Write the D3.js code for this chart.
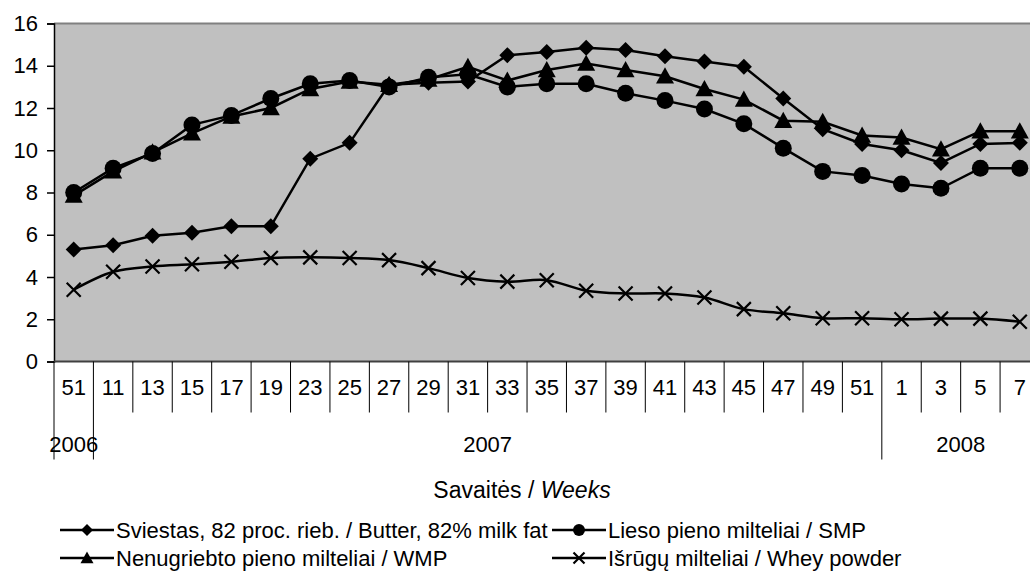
<!DOCTYPE html>
<html>
<head>
<meta charset="UTF-8">
<script src="https://d3js.org/d3.v7.min.js"></script>
<style>
  html,body{margin:0;padding:0;background:#fff;}
  svg{display:block;font-family:"Liberation Sans",Arial,sans-serif;}
</style>
</head>
<body>
<svg id="chart" width="1030" height="572"></svg>
<script>
// week labels along the x axis
var weeks = ["51","11","13","15","17","19","23","25","27","29","31","33","35","37","39","41","43","45","47","49","51","1","3","5","7"];
// year groups: label, first category index, number of categories
var yearLabels = ["2006","2007","2008"];
var yearStart  = [0, 1, 21];
var yearCount  = [1, 20, 4];

var butter = [5.3,5.5,5.95,6.1,6.4,6.4,9.6,10.35,13.1,13.2,13.25,14.5,14.65,14.85,14.75,14.45,14.2,13.95,12.45,11.0,10.3,10.0,9.4,10.3,10.35];
var smp    = [8.0,9.15,9.85,11.2,11.65,12.45,13.15,13.3,13.0,13.45,13.6,13.0,13.15,13.15,12.7,12.35,11.95,11.25,10.1,9.0,8.8,8.4,8.2,9.15,9.15];
var wmp    = [7.85,9.0,9.9,10.8,11.6,12.0,12.9,13.25,13.1,13.35,13.95,13.3,13.8,14.1,13.8,13.5,12.9,12.4,11.4,11.35,10.7,10.6,10.05,10.9,10.9];
var whey   = [3.4,4.25,4.5,4.6,4.72,4.9,4.93,4.9,4.8,4.42,3.95,3.78,3.85,3.35,3.22,3.22,3.03,2.48,2.28,2.05,2.05,2.0,2.03,2.03,1.88];

var seriesNames = ["Sviestas, 82 proc. rieb. / Butter, 82% milk fat","Lieso pieno milteliai / SMP","Nenugriebto pieno milteliai / WMP","Išrūgų milteliai / Whey powder"];
var yTicks = [0,2,4,6,8,10,12,14,16];

var svg = d3.select("#chart");
var plotLeft = 54, plotTop = 23.5, plotBottom = 361.5, band = 39.42;

var x = d3.scaleBand().domain(d3.range(weeks.length)).range([plotLeft, plotLeft + band*weeks.length]).padding(0);
var y = d3.scaleLinear().domain([0,16]).range([plotBottom, plotTop]);
var cx = function(i){ return x(i) + x.bandwidth()/2; };

// plot area
svg.append("rect").attr("x", plotLeft).attr("y", plotTop)
  .attr("width", x.range()[1]-plotLeft).attr("height", plotBottom-plotTop)
  .attr("fill", "#c0c0c0");
svg.append("line").attr("x1", plotLeft).attr("x2", x.range()[1]).attr("y1", plotTop).attr("y2", plotTop)
  .attr("stroke", "#808080").attr("stroke-width", 2);

// y axis
var yAxis = svg.append("g").attr("transform", "translate(" + plotLeft + ",0)")
  .call(d3.axisLeft(y).tickValues(yTicks).tickSize(7).tickPadding(9).tickFormat(d3.format("d")));
yAxis.select(".domain").attr("stroke", "#000").attr("stroke-width", 1.5);
yAxis.selectAll(".tick line").attr("stroke", "#000").attr("stroke-width", 1.5);
yAxis.selectAll("text").attr("font-size", 22).attr("fill", "#000").attr("font-family", "Liberation Sans, Arial, sans-serif");

// x axis with category labels
var xAxis = svg.append("g").attr("transform", "translate(0," + plotBottom + ")")
  .call(d3.axisBottom(x).tickSize(0).tickPadding(22).tickFormat(function(i){ return weeks[i]; }));
xAxis.select(".domain").remove();
xAxis.selectAll("text").attr("font-size", 22).attr("fill", "#000").attr("font-family", "Liberation Sans, Arial, sans-serif").attr("dy", "0.5em");
svg.append("line").attr("x1", plotLeft).attr("x2", x.range()[1]).attr("y1", plotBottom).attr("y2", plotBottom)
  .attr("stroke", "#404040").attr("stroke-width", 2);

// category dividers
svg.append("g").selectAll("line").data(d3.range(weeks.length + 1)).join("line")
  .attr("x1", function(i){ return plotLeft + i*x.step(); })
  .attr("x2", function(i){ return plotLeft + i*x.step(); })
  .attr("y1", plotBottom).attr("y2", function(i){ return yearStart.indexOf(i) >= 0 ? plotBottom + 98 : plotBottom + 51; })
  .attr("stroke", "#000").attr("stroke-width", 1);

// year labels
svg.append("g").selectAll("text").data(yearLabels).join("text")
  .attr("x", function(d, k){ return x(yearStart[k]) + yearCount[k]*x.step()/2; })
  .attr("y", 452).attr("text-anchor", "middle").attr("font-size", 22).text(function(d){ return d; });

// axis title
var title = svg.append("text").attr("x", 522).attr("y", 498).attr("text-anchor", "middle").attr("font-size", 23);
title.append("tspan").text("Savaitės / ");
title.append("tspan").attr("font-style", "italic").text("Weeks");

// markers
function marker(g, type, px, py, s) {
  if (type === "diamond") {
    g.append("path").attr("d", "M" + px + "," + (py-s) + "L" + (px+s) + "," + py + "L" + px + "," + (py+s) + "L" + (px-s) + "," + py + "Z").attr("fill", "#000");
  } else if (type === "circle") {
    g.append("circle").attr("cx", px).attr("cy", py).attr("r", s).attr("fill", "#000");
  } else if (type === "triangle") {
    g.append("path").attr("d", "M" + px + "," + (py-s) + "L" + (px+s) + "," + (py+s*0.8) + "L" + (px-s) + "," + (py+s*0.8) + "Z").attr("fill", "#000");
  } else {
    g.append("path").attr("d", "M" + (px-s) + "," + (py-s) + "L" + (px+s) + "," + (py+s) + "M" + (px-s) + "," + (py+s) + "L" + (px+s) + "," + (py-s))
      .attr("stroke", "#000").attr("stroke-width", 2.2).attr("fill", "none");
  }
}

var series = [
  {values: butter, type: "diamond", size: 8, curve: d3.curveLinear},
  {values: smp, type: "circle", size: 8.5, curve: d3.curveLinear},
  {values: wmp, type: "triangle", size: 9, curve: d3.curveLinear},
  {values: whey, type: "cross", size: 7, curve: d3.curveCatmullRom.alpha(0.5)}
];

series.forEach(function(s){
  var g = svg.append("g");
  var line = d3.line().x(function(d, i){ return cx(i); }).y(function(d){ return y(d); }).curve(s.curve);
  g.append("path").datum(s.values).attr("d", line).attr("fill", "none").attr("stroke", "#000").attr("stroke-width", 2.5);
  s.values.forEach(function(v, i){ marker(g, s.type, cx(i), y(v), s.size); });
});

// legend
var legendPos = [[60, 530], [552, 530], [60, 558], [552, 558]];
var legendType = ["diamond", "circle", "triangle", "cross"];
var legendSize = [6, 6, 6.5, 5.5];
legendPos.forEach(function(p, k){
  var g = svg.append("g");
  g.append("line").attr("x1", p[0]).attr("x2", p[0]+54).attr("y1", p[1]).attr("y2", p[1]).attr("stroke", "#000").attr("stroke-width", 2.5);
  marker(g, legendType[k], p[0]+27, p[1], legendSize[k]);
  g.append("text").attr("x", p[0]+56).attr("y", p[1]).attr("dy", "0.35em").attr("font-size", 22).text(seriesNames[k]);
});
</script>
</body>
</html>
